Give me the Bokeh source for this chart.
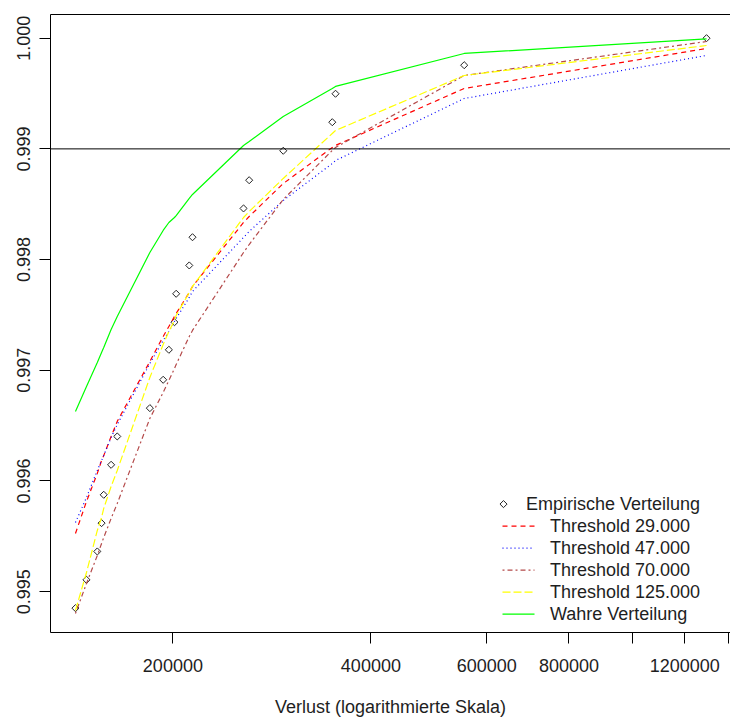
import math
import numpy as np
from bokeh.plotting import figure
from bokeh.models import (Range1d, FixedTicker, PrintfTickFormatter, LogAxis,
                          Span, Label)
from bokeh.embed import file_html
from bokeh.resources import INLINE

# Loss amounts (the largest observed losses) and their empirical CDF values
loss = [142200, 147800, 153500, 155800, 157000, 161100, 164600, 184500,
        193300, 197200, 201100, 202300, 211800, 214200, 256100, 261200,
        294300, 349400, 353400, 554500, 1295100]
empirical = [0.994851, 0.995107, 0.995363, 0.995619, 0.995875, 0.996146,
             0.996402, 0.996658, 0.996914, 0.997185, 0.997434, 0.997691,
             0.997947, 0.998202, 0.998462, 0.998717, 0.998983, 0.999241,
             0.999498, 0.999756, 1.000000]

# Fitted distribution functions for the different thresholds, evaluated at the losses
thr_29000 = [0.995526, 0.995815, 0.996068, 0.996185, 0.996230, 0.996402,
             0.996538, 0.997080, 0.997305, 0.997396, 0.997486, 0.997513,
             0.997703, 0.997757, 0.998335, 0.998389, 0.998687, 0.999013,
             0.999031, 0.999546, 0.999907]
thr_47000 = [0.995625, 0.995851, 0.996095, 0.996185, 0.996230, 0.996393,
             0.996510, 0.997061, 0.997269, 0.997350, 0.997441, 0.997468,
             0.997658, 0.997712, 0.998200, 0.998254, 0.998534, 0.998868,
             0.998895, 0.999455, 0.999844]
thr_70000 = [0.994803, 0.995074, 0.995327, 0.995435, 0.995490, 0.995661,
             0.995797, 0.996565, 0.996800, 0.996908, 0.997016, 0.997052,
             0.997305, 0.997360, 0.998064, 0.998136, 0.998543, 0.998986,
             0.999013, 0.999663, 0.999970]
thr_125000 = [0.994830, 0.995173, 0.995553, 0.995670, 0.995752, 0.995950,
              0.996095, 0.996935, 0.997233, 0.997350, 0.997450, 0.997495,
              0.997703, 0.997757, 0.998380, 0.998434, 0.998733, 0.999139,
              0.999166, 0.999663, 0.999934]
true_dist = [0.996628, 0.996854, 0.997070, 0.997161, 0.997206, 0.997369,
             0.997486, 0.998064, 0.998263, 0.998335, 0.998380, 0.998398,
             0.998552, 0.998588, 0.999031, 0.999067, 0.999293, 0.999546,
             0.999564, 0.999862, 0.999993]

x_ticks = [200000, 400000, 600000, 800000, 1200000]
x_minor_ticks = [1000000, 1400000]
y_ticks = [0.995, 0.996, 0.997, 0.998, 0.999, 1.000]
quantile_level = 0.999

labels = ["Empirische Verteilung", "Threshold 29.000", "Threshold 47.000",
          "Threshold 70.000", "Threshold 125.000", "Wahre Verteilung"]

FONT = "Liberation Sans"
TEXT = "#1e1e1e"

# plot frame geometry (pixels) and data ranges
W, H = 730, 720
LEFT, RIGHT, TOP, BOTTOM = 50, 730, 14, 632
X0, X1 = 130300, 1408500
Y0, Y1 = 0.994631, 1.000214

p = figure(width=W, height=H, x_axis_type="log",
           x_range=Range1d(X0, X1), y_range=Range1d(Y0, Y1),
           output_backend="svg", toolbar_location=None,
           min_border_left=LEFT, min_border_right=W - RIGHT,
           min_border_top=TOP, min_border_bottom=H - BOTTOM,
           x_axis_label="Verlust (logarithmierte Skala)")
p.outline_line_color = None
p.grid.visible = False
p.background_fill_color = "white"
p.border_fill_color = "white"

xax = p.xaxis[0]
xax.ticker = FixedTicker(ticks=x_ticks, minor_ticks=x_minor_ticks)
xax.formatter = PrintfTickFormatter(format="%d")
xax.major_tick_in = 0
xax.major_tick_out = 11
xax.minor_tick_in = 0
xax.minor_tick_out = 11
xax.minor_tick_line_color = "black"
xax.major_label_standoff = 15
xax.axis_label_standoff = 22
xax.axis_label_text_font_style = "normal"
xax.axis_label_text_font = FONT
xax.axis_label_text_font_size = "18px"
xax.axis_label_text_color = TEXT
xax.major_label_text_font = FONT
xax.major_label_text_font_size = "18px"
xax.major_label_text_color = TEXT
xax.axis_line_color = "black"

yax = p.yaxis[0]
yax.ticker = FixedTicker(ticks=y_ticks)
yax.formatter = PrintfTickFormatter(format="%.3f")
yax.major_label_orientation = "vertical"
yax.major_tick_in = 0
yax.major_tick_out = 11
yax.minor_tick_line_color = None
yax.major_label_standoff = 9
yax.major_label_text_font = FONT
yax.major_label_text_font_size = "18px"
yax.major_label_text_color = TEXT
yax.axis_line_color = "black"

# top border of the plot box
top = LogAxis(ticker=FixedTicker(ticks=[]), major_label_text_font_size="0px",
              major_tick_line_color=None, minor_tick_line_color=None,
              axis_line_color="black")
p.add_layout(top, "above")

marker_style = dict(marker="square", angle=np.pi / 4, size=5,
                    fill_color=None, line_color="#222222", line_width=1)
series = [
    (thr_29000, dict(line_color="#ff0000", line_dash="5 4")),
    (thr_47000, dict(line_color="#0000ff", line_dash="1 3")),
    (thr_70000, dict(line_color="#b44a4a", line_dash="2 3 5 3")),
    (thr_125000, dict(line_color="#ffff00", line_dash="8 3")),
    (true_dist, dict(line_color="#00ff00")),
]

p.scatter(loss, empirical, **marker_style)
for values, style in series:
    p.line(loss, values, line_width=1.2, **style)

p.add_layout(Span(location=quantile_level, dimension="width",
                  line_color="black", line_width=1))


# legend (no box), placed in pixel positions inside the frame
def sx(px):
    lo, hi = math.log10(X0), math.log10(X1)
    return 10 ** (lo + (px - LEFT) / (RIGHT - LEFT) * (hi - lo))


def sy(py):
    return Y1 - (py - TOP) / (BOTTOM - TOP) * (Y1 - Y0)


row0, pitch = 503.6, 22.0
key_x0, key_x1 = 502, 534
p.scatter([sx(503)], [sy(row0)], **marker_style)
p.add_layout(Label(x=sx(525.5), y=sy(row0), text=labels[0],
                   text_font=FONT, text_font_size="18px",
                   text_color=TEXT, text_baseline="middle"))
for k, (values, style) in enumerate(series, start=1):
    yk = sy(row0 + k * pitch)
    p.line([sx(key_x0), sx(key_x1)], [yk, yk], line_width=1.2, **style)
    p.add_layout(Label(x=sx(549.4), y=yk, text=labels[k],
                       text_font=FONT, text_font_size="18px",
                       text_color=TEXT, text_baseline="middle"))

open("out.html", "w").write(file_html(p, INLINE))
